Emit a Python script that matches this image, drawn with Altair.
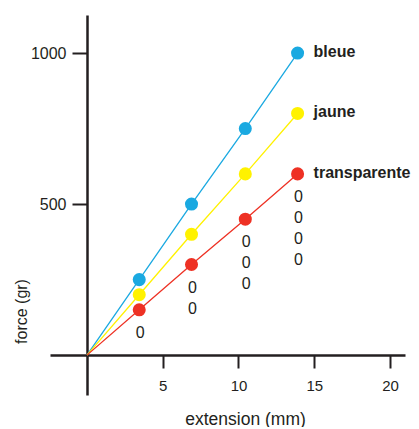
import altair as alt
import pandas as pd

# ---- data ----
extension = [3.45, 6.9, 10.45, 13.9]
series_names = ["bleue", "jaune", "transparente"]
force_bleue = [250, 500, 750, 1000]
force_jaune = [200, 400, 600, 800]
force_transparente = [150, 300, 450, 600]
zero_counts = [1, 2, 3, 4]
colors = ["#1aa9e1", "#fff200", "#ee3124"]
x_ticks = [5, 10, 15, 20]
y_ticks = [500, 1000]

values = {"bleue": force_bleue, "jaune": force_jaune, "transparente": force_transparente}

pts = pd.DataFrame([
    {"ext": e, "force": f, "serie": s}
    for s in series_names for e, f in zip(extension, values[s])
])
lines = pd.concat([
    pd.DataFrame([{"ext": 0, "force": 0, "serie": s, "o": 0} for s in series_names]),
    pts.assign(o=pts["ext"]),
])
last = pts.groupby("serie", as_index=False).last()
zeros = pd.DataFrame({
    "ext": extension,
    "force": force_transparente,
    "txt": ["\n".join(["0"] * n) for n in zero_counts],
})

ink = "#231f20"
xs = alt.Scale(domain=[-2.44, 20.99], nice=False, zero=False)
ys = alt.Scale(domain=[-132, 1126], nice=False, zero=False)
col = alt.Scale(domain=series_names, range=colors)

x_enc = alt.X("ext:Q", scale=xs, axis=alt.Axis(
    values=x_ticks, title="extension (mm)", offset=-40, grid=False, format="d",
    domainColor=ink, domainWidth=2.5, tickColor=ink, tickWidth=2, tickSize=13,
    labelFont="Liberation Sans", labelFontSize=15, labelColor=ink, labelPadding=10,
    titleFont="Liberation Sans", titleFontSize=17.5, titleFontWeight="normal", titleColor=ink,
    titleX=195, titleY=55))
y_enc = alt.Y("force:Q", scale=ys, axis=alt.Axis(
    values=y_ticks, title="force (gr)", offset=-37, grid=False, format="d",
    domainColor=ink, domainWidth=2.5, tickColor=ink, tickWidth=2, tickSize=15,
    labelFont="Liberation Sans", labelFontSize=16, labelColor=ink, labelPadding=6,
    titleFont="Liberation Sans", titleFontSize=16, titleFontWeight="normal", titleColor=ink,
    titleX=-58, titleY=296))

line_layer = alt.Chart(lines).mark_line(strokeWidth=1.3).encode(
    x=x_enc, y=y_enc, detail="serie:N", order="o:Q",
    color=alt.Color("serie:N", scale=col, legend=None))
pt_layer = alt.Chart(pts).mark_circle(size=170, opacity=1).encode(
    x="ext:Q", y="force:Q", color=alt.Color("serie:N", scale=col, legend=None))
lab_layer = alt.Chart(last).mark_text(
    align="left", baseline="middle", dx=16, dy=-1, fontWeight="bold", fontSize=16,
    font="Liberation Sans", color=ink).encode(
    x="ext:Q", y="force:Q", text="serie:N")
zero_layer = alt.Chart(zeros).mark_text(
    align="center", baseline="top", dx=1, dy=15, fontSize=16, lineHeight=21,
    lineBreak="\n", font="Liberation Sans", color=ink).encode(
    x="ext:Q", y="force:Q", text="txt:N")

chart = alt.layer(line_layer, pt_layer, lab_layer, zero_layer).properties(
    width=355, height=380,
    autosize=alt.AutoSizeParams(type="none"),
    padding={"left": 42, "top": 7, "right": 6, "bottom": 32},
).configure(background="white").configure_view(stroke=None)

chart.save("out.html", embed_options={"renderer": "svg", "actions": False})
